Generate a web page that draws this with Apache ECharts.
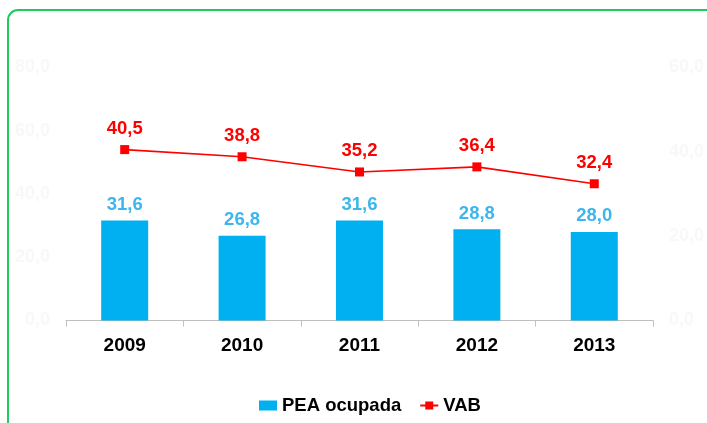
<!DOCTYPE html>
<html lang="pt">
<head>
  <meta charset="UTF-8">
  <title>PEA ocupada e VAB</title>
  <script src="https://cdn.jsdelivr.net/npm/echarts@6/dist/echarts.min.js"></script>
  <style>
    html, body { margin: 0; padding: 0; background: #fff; }
    #chart { width: 707px; height: 423px; }
  </style>
</head>
<body>
  <div id="chart"></div>
<script>
  // dados
  const anos = ['2009', '2010', '2011', '2012', '2013'];
  const peaOcupada = [31.6, 26.8, 31.6, 28.8, 28.0];
  const vab = [40.5, 38.8, 35.2, 36.4, 32.4];

  const fmt = v => v.toFixed(1).replace('.', ',');
  const fonte = 'Liberation Sans, Arial, sans-serif';

  const chart = echarts.init(document.getElementById('chart'));

  const option = {
    animation: false,
    backgroundColor: '#fff',
    textStyle: { fontFamily: fonte },
    // moldura verde arredondada
    graphic: [{
      type: 'rect',
      shape: { x: 8, y: 10, width: 730, height: 440, r: 10 },
      style: { fill: 'none', stroke: '#1fca5e', lineWidth: 2 },
      silent: true
    }],
    grid: { left: 66, right: 51, top: 4, bottom: 102.5 },
    legend: {
      top: 391,
      left: 254,
      itemGap: 18,
      itemWidth: 18,
      itemHeight: 10,
      textStyle: { fontSize: 18.5, fontWeight: 'bold', color: '#000', fontFamily: fonte },
      data: [
        { name: 'PEA ocupada', icon: 'rect', itemStyle: { color: '#00b0f0' } },
        { name: 'VAB' }
      ]
    },
    xAxis: {
      type: 'category',
      data: anos,
      axisLine: { lineStyle: { color: '#bfbfbf', width: 1 } },
      axisTick: { show: true, length: 6, lineStyle: { color: '#bfbfbf' } },
      axisLabel: { fontSize: 19, fontWeight: 'bold', color: '#000', margin: 16, fontFamily: fonte }
    },
    yAxis: [
      {
        type: 'value', min: 0, max: 100, interval: 20,
        splitLine: { show: false },
        axisLine: { show: false },
        axisTick: { show: false },
        axisLabel: {
          showMaxLabel: false, margin: 16, fontSize: 18, fontWeight: 'bold',
          color: '#f8f8f8', formatter: v => fmt(v), fontFamily: fonte
        }
      },
      {
        type: 'value', min: 0, max: 75, interval: 20,
        splitLine: { show: false },
        axisLine: { show: false },
        axisTick: { show: false },
        axisLabel: {
          showMaxLabel: false, margin: 16, fontSize: 18, fontWeight: 'bold',
          color: '#f8f8f8', formatter: v => fmt(v), fontFamily: fonte
        }
      }
    ],
    series: [
      {
        name: 'PEA ocupada',
        type: 'bar',
        yAxisIndex: 0,
        data: peaOcupada,
        barWidth: 47,
        itemStyle: { color: '#00b0f0' },
        label: {
          show: true, position: 'top', distance: 6,
          fontSize: 18.5, fontWeight: 'bold', color: '#3cb6ee',
          formatter: p => fmt(p.value), fontFamily: fonte
        }
      },
      {
        name: 'VAB',
        type: 'line',
        yAxisIndex: 1,
        data: vab,
        symbol: 'rect',
        symbolSize: 9,
        lineStyle: { color: '#ff0000', width: 1.6 },
        itemStyle: { color: '#ff0000' },
        label: {
          show: true, position: 'top', distance: 7,
          fontSize: 18.5, fontWeight: 'bold', color: '#ff0000',
          formatter: p => fmt(p.value), fontFamily: fonte
        }
      }
    ]
  };

  chart.setOption(option);
</script>
</body>
</html>
